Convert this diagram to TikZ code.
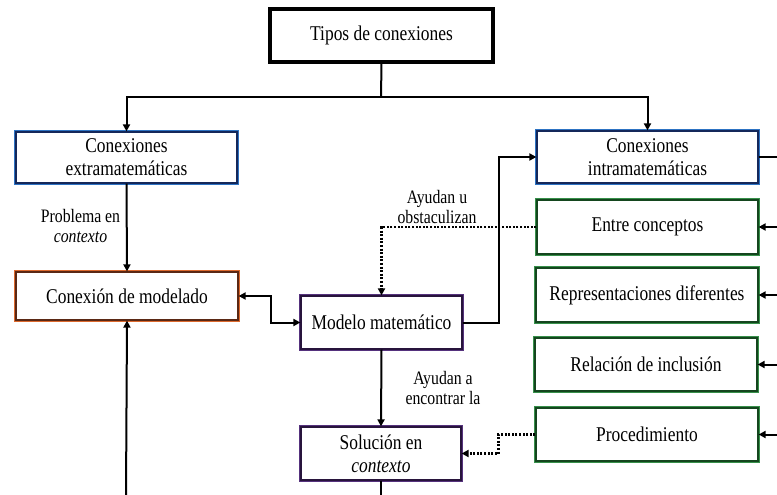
\documentclass[tikz,border=0pt]{standalone}
\usepackage{fontspec}
\setmainfont{Liberation Serif}[FakeStretch=0.83]
\usetikzlibrary{arrows.meta}
\definecolor{bOut}{RGB}{45,115,195}
\definecolor{bIn}{RGB}{20,40,90}
\definecolor{gOut}{RGB}{55,145,75}
\definecolor{gIn}{RGB}{20,70,30}
\definecolor{oOut}{RGB}{220,105,45}
\definecolor{oIn}{RGB}{90,40,20}
\definecolor{pOut}{RGB}{85,50,125}
\definecolor{pIn}{RGB}{40,20,60}
\tikzset{
  box/.style={rectangle, fill=white, align=center, inner sep=0pt,
    font=\fontsize{21}{23}\selectfont},
  cbox/.style 2 args={box, draw=#2, line width=1.2pt,
    preaction={draw=#1, line width=3.4pt}},
  lbl/.style={align=center, inner sep=0pt, font=\fontsize{19}{20}\selectfont},
  conn/.style={draw=black, line width=2pt},
  tip/.style={-{Triangle[length=7pt,width=7pt]}},
  dots/.style={line width=2.6pt, dash pattern=on 2pt off 1.6pt},
}
\begin{document}
\begin{tikzpicture}[x=1pt,y=-1pt]
\useasboundingbox (0,0) rectangle (777,495);
% nodes
\node[box, draw=black, line width=3.5pt, minimum width=223pt, minimum height=53pt] (tipos) at (381.5,35.5) {Tipos de conexiones};
\node[cbox={bOut}{bIn}, minimum width=221pt, minimum height=51pt] (ext) at (126.5,157.5) {Conexiones\\extramatemáticas};
\node[cbox={bOut}{bIn}, minimum width=221pt, minimum height=52pt] (intra) at (647.5,157) {Conexiones\\intramatemáticas};
\node[cbox={gOut}{gIn}, minimum width=221pt, minimum height=54pt] (entre) at (647.5,227) {Entre conceptos};
\node[cbox={gOut}{gIn}, minimum width=222pt, minimum height=54pt] (repr) at (647,295) {Representaciones diferentes};
\node[cbox={gOut}{gIn}, minimum width=222pt, minimum height=53pt] (rel) at (646,364.5) {Relación de inclusión};
\node[cbox={gOut}{gIn}, minimum width=222pt, minimum height=53pt] (proc) at (647,434.5) {Procedimiento};
\node[cbox={oOut}{oIn}, minimum width=222pt, minimum height=48pt] (modelado) at (127,296) {Conexión de modelado};
\node[cbox={pOut}{pIn}, minimum width=161pt, minimum height=53pt] (modelo) at (381.5,322.5) {Modelo matemático};
\node[cbox={pOut}{pIn}, minimum width=160pt, minimum height=53pt] (sol) at (381,453.5) {Solución en\\\textit{contexto}};
% labels
\node[lbl] (l1) at (80.5,226) {Problema en\\\textit{contexto}};
\node[lbl] (l2) at (437,207) {Ayudan u\\obstaculizan};
\node[lbl] (l3) at (443,387.5) {Ayudan a\\encontrar la};
% edge coordinates
\coordinate (split) at (381,97);
\coordinate (bl) at (126,495);
\coordinate (bm) at (381,495);
\coordinate (r0) at (777,157);
\coordinate (r1) at (777,227);
\coordinate (r2) at (777,295);
\coordinate (r3) at (777,364.5);
\coordinate (r4) at (777,434.5);
% connectors
\draw[conn] (tipos.south) -- (split);
\draw[conn, tip] (split) -| (ext.north);
\draw[conn, tip] (split) -| (intra.north);
\draw[conn, tip] (ext.south) -- (modelado.north);
\draw[conn, tip] (bl) -- (modelado.south);
\draw[conn, {Triangle[length=7pt,width=7pt]}-{Triangle[length=7pt,width=7pt]}] (modelado.east) -- ++(32,0) |- (modelo.west);
\draw[conn, tip] (modelo.south) -- (sol.north);
\draw[conn] (sol.south) -- (bm);
\draw[conn, tip] (modelo.east) -- ++(36,0) |- (intra.west);
\draw[conn] (intra.east) -- (r0);
\draw[conn, tip] (r1) -- (entre.east);
\draw[conn, tip] (r2) -- (repr.east);
\draw[conn, tip] (r3) -- (rel.east);
\draw[conn, tip] (r4) -- (proc.east);
\draw[dots, -{Triangle[length=7pt,width=7pt]}] (entre.west) -| (modelo.north);
\draw[dots, -{Triangle[length=7pt,width=7pt]}] (proc.west) -- ++(-37,0) |- (sol.east);
\end{tikzpicture}
\end{document}
